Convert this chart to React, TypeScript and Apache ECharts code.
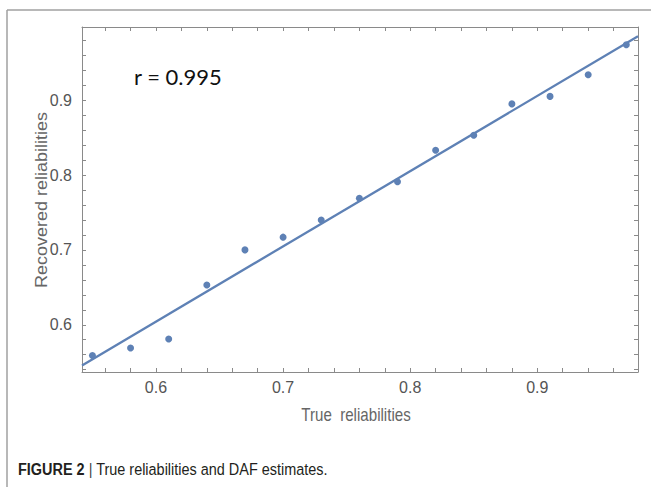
import React, { useEffect, useRef } from "react";
import * as echarts from "echarts";

// Data
const trueRel = [0.55, 0.58, 0.61, 0.64, 0.67, 0.7, 0.73, 0.76, 0.79, 0.82, 0.85, 0.88, 0.91, 0.94, 0.97];
const recoveredRel = [0.559, 0.569, 0.581, 0.653, 0.7, 0.717, 0.74, 0.769, 0.791, 0.833, 0.853, 0.895, 0.905, 0.934, 0.974];
const fitX = [0.5418, 0.9792];
const fitY = [0.5457, 0.9853];
const xTickLabels = [0.6, 0.7, 0.8, 0.9];
const yTickLabels = [0.6, 0.7, 0.8, 0.9];
const xTicks = [0.56, 0.58, 0.6, 0.62, 0.64, 0.66, 0.68, 0.7, 0.72, 0.74, 0.76, 0.78, 0.8, 0.82, 0.84, 0.86, 0.88, 0.9, 0.92, 0.94, 0.96];
const yTicks = [0.54, 0.56, 0.58, 0.6, 0.62, 0.64, 0.66, 0.68, 0.7, 0.72, 0.74, 0.76, 0.78, 0.8, 0.82, 0.84, 0.86, 0.88, 0.9, 0.92, 0.94, 0.96, 0.98];
const xRange = [0.5418, 0.9792];
const yRange = [0.5369, 0.9977];

const SANS = "'Liberation Sans', Arial, sans-serif";
const axisColor = "#8a8a8a";
const labelColor = "#555555";
const blue = "#5E81B5";

function makeAxis(kind: "x" | "y", position: string, withLabels: boolean) {
  const range = kind === "x" ? xRange : yRange;
  return {
    type: "value",
    position,
    min: range[0],
    max: range[1],
    axisLine: { show: true, onZero: false, lineStyle: { color: axisColor, width: 1 } },
    axisTick: {
      show: true,
      inside: true,
      length: 4,
      customValues: kind === "x" ? xTicks : yTicks,
      lineStyle: { color: axisColor, width: 1 },
    },
    axisLabel: withLabels
      ? {
          show: true,
          customValues: kind === "x" ? xTickLabels : yTickLabels,
          formatter: (v: number) => v.toFixed(1),
          color: labelColor,
          fontSize: 16,
          fontFamily: SANS,
          margin: kind === "x" ? 7 : 10,
        }
      : { show: false },
    splitLine: { show: false },
  };
}

export default function App() {
  const ref = useRef<HTMLDivElement>(null);
  useEffect(() => {
    if (!ref.current) return;
    const chart = echarts.init(ref.current, undefined, { renderer: "svg" });
    chart.setOption({
      animation: false,
      backgroundColor: "#ffffff",
      grid: { left: 82, top: 27, width: 556, height: 345, containLabel: false, outerBoundsMode: "none" },
      xAxis: [makeAxis("x", "bottom", true), makeAxis("x", "top", false)],
      yAxis: [makeAxis("y", "left", true), makeAxis("y", "right", false)],
      series: [
        {
          type: "line",
          data: fitX.map((x, i) => [x, fitY[i]]),
          showSymbol: false,
          symbol: "none",
          lineStyle: { color: blue, width: 2.3 },
          z: 2,
        },
        {
          type: "scatter",
          data: trueRel.map((x, i) => [x, recoveredRel[i]]),
          symbolSize: 7,
          itemStyle: { color: blue, opacity: 1 },
          z: 3,
        },
      ],
      graphic: [
        { type: "line", shape: { x1: 7, y1: 10, x2: 651, y2: 10 }, style: { stroke: "#a0a0a0", lineWidth: 1.5 } },
        { type: "line", shape: { x1: 7, y1: 10, x2: 7, y2: 487 }, style: { stroke: "#a0a0a0", lineWidth: 1.5 } },
        {
          type: "text",
          x: 134,
          y: 76,
          style: { text: "r = 0.995", fill: "#111111", fontSize: 22, fontFamily: "Lato, 'Open Sans', sans-serif", textAlign: "left", textVerticalAlign: "middle" },
        },
        {
          type: "text",
          x: 42,
          y: 200,
          rotation: Math.PI / 2,
          scaleY: 0.88,
          style: { text: "Recovered reliabilities", fill: "#666666", fontSize: 18, fontFamily: SANS, textAlign: "center", textVerticalAlign: "middle" },
        },
        {
          type: "text",
          x: 356,
          y: 415,
          scaleX: 0.84,
          style: { text: "True  reliabilities", fill: "#666666", fontSize: 18, fontFamily: SANS, textAlign: "center", textVerticalAlign: "middle" },
        },
        {
          type: "text",
          x: 18,
          y: 469,
          scaleX: 0.85,
          style: {
            text: "{b|FIGURE 2} {p||} True reliabilities and DAF estimates.",
            fill: "#231f20",
            fontSize: 17,
            fontFamily: SANS,
            textAlign: "left",
            textVerticalAlign: "middle",
            rich: {
              b: { fontWeight: "bold", fontSize: 17, fontFamily: SANS, fill: "#231f20" },
              p: { fontSize: 17, fontFamily: SANS, fill: "#444444" },
            },
          },
        },
      ],
    });
    return () => chart.dispose();
  }, []);
  return <div ref={ref} style={{ position: "fixed", left: 0, top: 0, width: 651, height: 487 }} />;
}
